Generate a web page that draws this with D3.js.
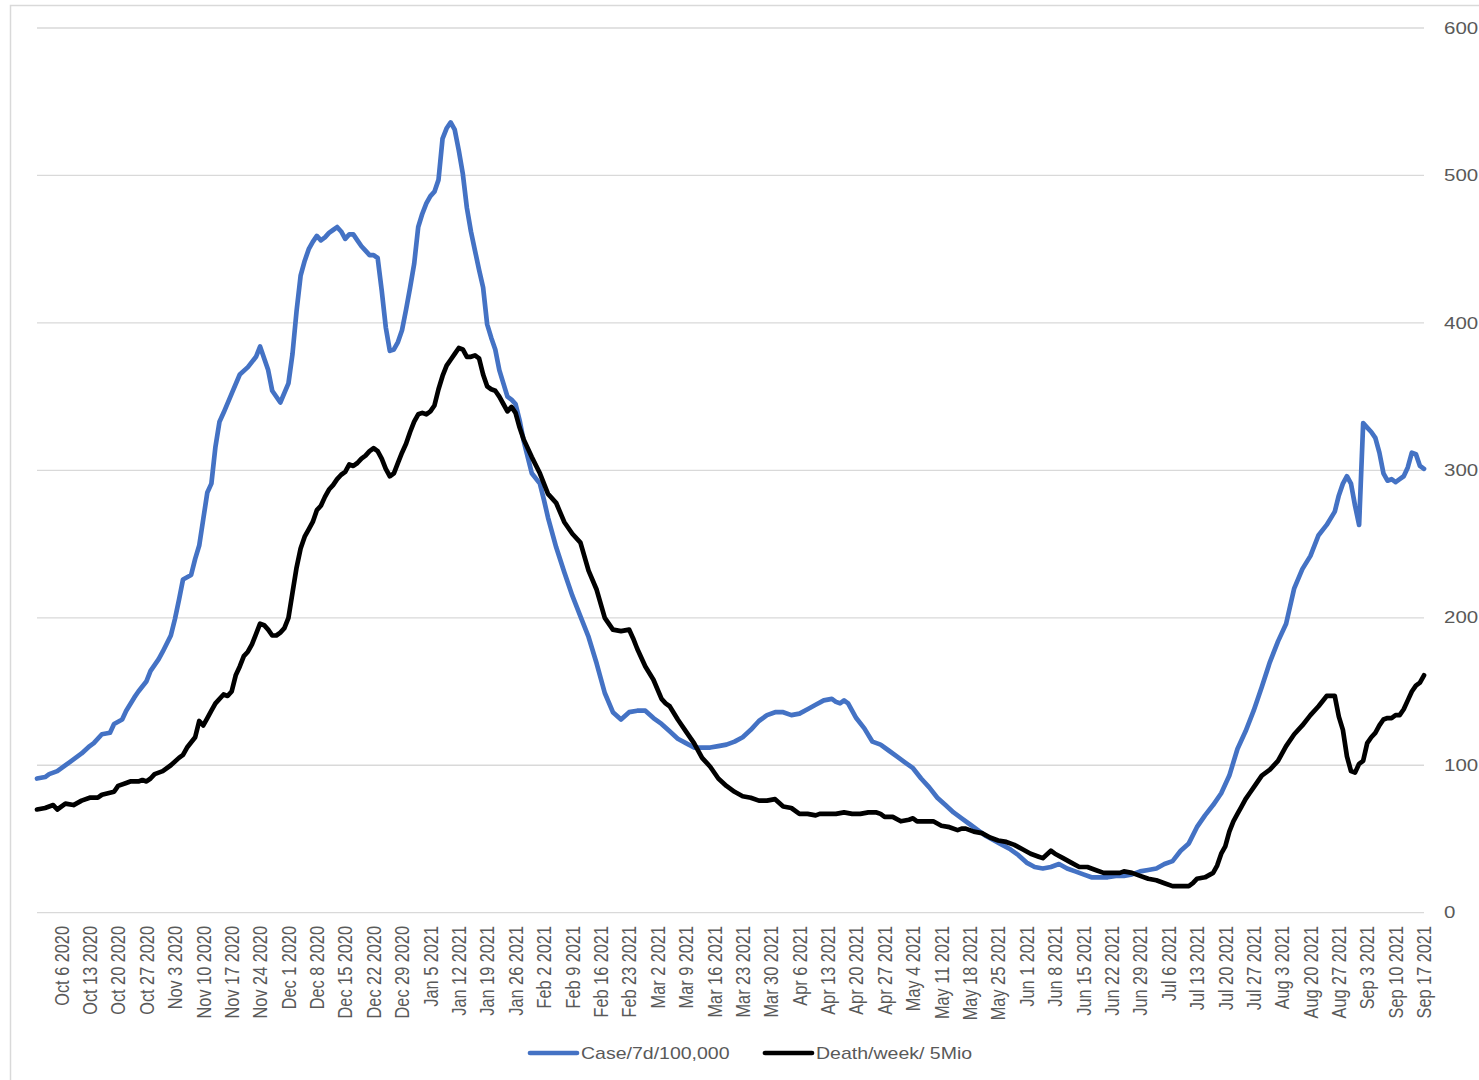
<!DOCTYPE html>
<html><head><meta charset="utf-8">
<script src="https://cdn.jsdelivr.net/npm/d3@7"></script>
<style>
html,body{margin:0;padding:0;background:#fff;}
svg{display:block;}
text{font-family:"Liberation Sans",Arial,sans-serif;fill:#595959;}
</style></head><body>
<svg id="chart" width="1479" height="1080"></svg>
<script>
const tickLabels = ["Oct 6 2020","Oct 13 2020","Oct 20 2020","Oct 27 2020","Nov 3 2020","Nov 10 2020","Nov 17 2020","Nov 24 2020","Dec 1 2020","Dec 8 2020","Dec 15 2020","Dec 22 2020","Dec 29 2020","Jan 5 2021","Jan 12 2021","Jan 19 2021","Jan 26 2021","Feb 2 2021","Feb 9 2021","Feb 16 2021","Feb 23 2021","Mar 2 2021","Mar 9 2021","Mar 16 2021","Mar 23 2021","Mar 30 2021","Apr 6 2021","Apr 13 2021","Apr 20 2021","Apr 27 2021","May 4 2021","May 11 2021","May 18 2021","May 25 2021","Jun 1 2021","Jun 8 2021","Jun 15 2021","Jun 22 2021","Jun 29 2021","Jul 6 2021","Jul 13 2021","Jul 20 2021","Jul 27 2021","Aug 3 2021","Aug 20 2021","Aug 27 2021","Sep 3 2021","Sep 10 2021","Sep 17 2021"];
const firstLabelDay = 6;
const labelStep = 7;
const lastDay = 342;
const yTicks = [0,100,200,300,400,500,600];
const seriesNames = ["Case/7d/100,000","Death/week/ 5Mio"];
const seriesColors = ["#4472C4","#000000"];

const caseDays = [0,2,3,5,8,9,11,13,14,16,18,19,21,22,24,25,27,28,30,31,33,34,35,36,38,39,40,41,42,43,44,45,46,48,50,52,54,55,57,58,60,62,63,64,65,66,67,68,69,70,71,72,73,74,75,76,77,78,79,80,81,82,83,84,85,86,87,88,89,90,91,92,93,94,95,96,97,98,99,100,101,102,103,104,105,106,107,108,109,110,111,112,113,114,115,116,117,118,119,120,122,124,125,126,128,130,132,134,136,138,140,142,144,146,148,150,152,154,156,158,160,162,164,166,168,170,172,174,176,178,180,182,184,186,188,190,192,194,196,197,198,199,200,202,204,206,208,210,212,214,216,218,220,222,224,226,228,230,232,234,236,238,240,242,244,246,248,250,252,254,256,258,260,262,264,266,268,270,272,274,276,278,280,282,284,286,288,290,292,294,296,298,300,302,304,306,308,310,312,314,316,318,320,321,322,323,324,325,326,327,328,329,330,331,332,333,334,335,336,337,338,339,340,341,342];
const caseValues = [91,92,94,96,102,104,108,113,115,121,122,128,131,137,146,150,157,164,172,177,188,199,212,226,229,240,249,267,285,291,316,333,339,352,365,370,377,384,368,354,346,359,379,408,432,442,450,455,459,456,458,461,463,465,462,457,460,460,456,452,449,446,446,444,422,397,381,382,387,395,409,424,440,465,474,481,486,489,497,525,532,536,531,517,501,478,462,449,436,424,399,390,382,368,359,350,348,345,334,320,298,291,280,268,248,231,215,201,187,169,149,136,131,136,137,137,132,128,123,118,115,112,112,112,113,114,116,119,124,130,134,136,136,134,135,138,141,144,145,143,142,144,142,132,125,116,114,110,106,102,98,91,85,78,73,68,64,60,56,52,49,46,43,39,34,31,30,31,33,30,28,26,24,24,24,25,25,26,28,29,30,33,35,42,47,58,66,73,81,93,111,123,137,153,170,184,196,220,233,242,256,263,272,283,291,296,291,276,263,332,329,326,322,312,298,293,294,292,294,296,302,312,311,303,301];

const deathDays = [0,2,4,5,7,9,11,13,15,16,19,20,22,23,24,25,26,27,28,29,31,33,35,36,37,39,40,41,42,43,44,46,47,48,49,50,51,52,53,54,55,56,57,58,59,60,61,62,63,64,65,66,67,68,69,70,71,72,73,74,75,76,77,78,79,80,81,82,83,84,85,86,87,88,89,90,91,92,93,94,95,96,97,98,99,100,101,102,103,104,105,106,107,108,109,110,111,112,113,114,115,116,117,118,119,120,122,124,126,128,130,132,134,136,138,140,142,144,146,147,148,150,152,154,155,156,158,160,162,164,166,168,170,172,174,176,178,180,182,184,186,188,190,192,193,195,197,199,201,203,205,207,208,209,211,213,215,216,217,219,221,223,225,227,228,229,231,233,235,237,239,241,243,245,247,248,250,251,253,255,257,259,261,263,265,267,268,270,272,274,276,278,280,282,284,285,286,288,290,291,292,293,294,295,296,297,298,299,300,302,304,306,308,310,312,314,316,318,320,321,322,323,324,325,326,327,328,329,330,331,332,333,334,335,336,337,338,339,340,341,342];
const deathValues = [70,71,73,70,74,73,76,78,78,80,82,86,88,89,89,89,90,89,91,94,96,100,105,107,112,119,130,127,132,137,142,148,147,150,161,167,174,177,182,189,196,195,192,188,188,190,193,200,217,234,247,255,260,265,273,276,282,287,290,294,297,299,304,303,305,308,310,313,315,313,308,301,296,298,305,312,318,326,333,338,339,338,340,344,355,364,371,375,379,383,382,377,377,378,376,365,357,355,354,350,345,340,343,339,329,321,309,298,284,278,265,257,251,232,219,200,192,191,192,186,179,167,158,145,142,140,131,123,115,105,99,91,86,82,79,78,76,76,77,72,71,67,67,66,67,67,67,68,67,67,68,68,67,65,65,62,63,64,62,62,62,59,58,56,57,57,55,54,51,49,48,46,43,40,38,37,42,40,37,34,31,31,29,27,27,27,28,27,25,23,22,20,18,18,18,20,23,24,27,32,40,45,55,62,67,72,77,81,85,93,97,103,113,121,127,134,140,147,147,133,124,106,96,95,101,103,115,119,122,127,131,132,132,134,134,138,144,150,154,156,161];

const W = 1479, H = 1080;
const margin = {left: 37, right: 55, top: 28, bottom: 167};
const svg = d3.select("#chart");
svg.append("rect").attr("width", W).attr("height", H).attr("fill", "#fff");
// outer chart border (left & top visible)
svg.append("path").attr("d", "M10.5,1080 V5.5 H1479").attr("fill", "none").attr("stroke", "#d9d9d9").attr("stroke-width", 1.5);

const x = d3.scaleLinear().domain([0, lastDay]).range([margin.left, W - margin.right]);
const y = d3.scaleLinear().domain([0, 600]).range([H - margin.bottom - 0.3, margin.top]);

// gridlines
svg.append("g").selectAll("line").data(yTicks).join("line")
  .attr("x1", x(0)).attr("x2", x(lastDay))
  .attr("y1", d => y(d)).attr("y2", d => y(d))
  .attr("stroke", "#d9d9d9").attr("stroke-width", 1.3);

// right y-axis labels
svg.append("g").selectAll("text").data(yTicks).join("text")
  .attr("transform", d => `translate(1444,${y(d)}) scale(1.28,1)`)
  .attr("dy", "0.35em")
  .attr("font-size", 16)
  .text(d => d);

// x labels
const labelData = tickLabels.map((t, i) => ({t, d: firstLabelDay + i * labelStep}));
svg.append("g").selectAll("text").data(labelData).join("text")
  .attr("transform", d => `translate(${x(d.d)},926) scale(1.27,1) rotate(-90)`)
  .attr("text-anchor", "end")
  .attr("dy", "0.35em")
  .attr("font-size", 16.3)
  .text(d => d.t);

// lines
const line = d3.line().x(d => x(d[0])).y(d => y(d[1]));
const series = [
  d3.zip(caseDays, caseValues),
  d3.zip(deathDays, deathValues)
];
svg.append("g").selectAll("path").data(series).join("path")
  .attr("d", d => line(d))
  .attr("fill", "none")
  .attr("stroke", (d, i) => seriesColors[i])
  .attr("stroke-width", 4.7)
  .attr("stroke-linejoin", "round")
  .attr("stroke-linecap", "round");

// legend
const legendX = [530, 765];
const lg = svg.append("g").selectAll("g").data(seriesNames).join("g")
  .attr("transform", (d, i) => `translate(${legendX[i]},1053)`);
lg.append("line").attr("x1", 0).attr("x2", 47).attr("y1", 0).attr("y2", 0)
  .attr("stroke", (d, i) => seriesColors[i]).attr("stroke-width", 4.7).attr("stroke-linecap", "round");
lg.append("text").attr("transform", `translate(51,0) scale(1.22,1)`)
  .attr("dy", "0.35em").attr("font-size", 16).text(d => d);
</script>
</body></html>
